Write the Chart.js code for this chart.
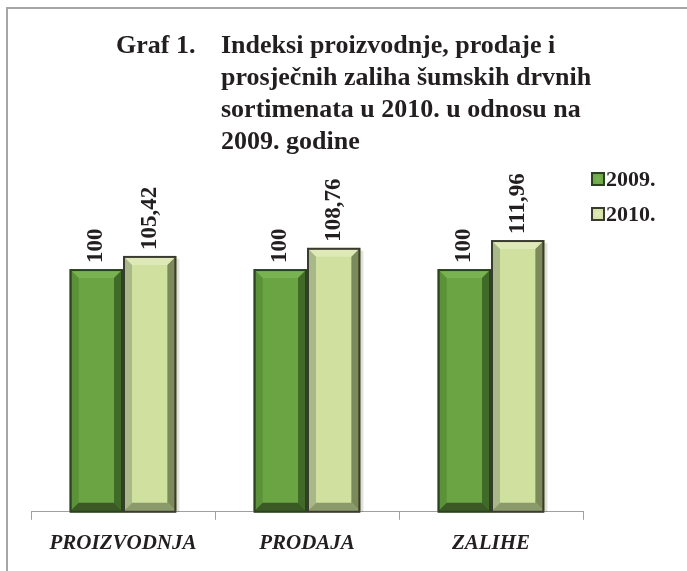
<!DOCTYPE html>
<html>
<head>
<meta charset="utf-8">
<script src="https://cdn.jsdelivr.net/npm/chart.js@4/dist/chart.umd.min.js"></script>
<style>
  html, body { margin: 0; padding: 0; background: #fff; }
  #wrap { position: relative; width: 687px; height: 571px; overflow: hidden; }
  #frame { position: absolute; left: 6px; top: 7px; width: 700px; height: 600px; border-left: 2px solid #a6a6a6; border-top: 2px solid #a6a6a6; }
  #title { position: absolute; left: 116px; top: 29px; display: flex; font-family: "Liberation Serif", "Times New Roman", serif; font-weight: bold; font-size: 26px; line-height: 32px; color: #231f20; }
  #title .num { width: 105px; }
  canvas { position: absolute; left: 0; top: 0; }
</style>
</head>
<body>
<div id="wrap">
  <div id="frame"></div>
  <canvas id="c" width="687" height="571"></canvas>
  <div id="title"><div class="num">Graf 1.</div><div>Indeksi proizvodnje, prodaje i<br>prosječnih zaliha šumskih drvnih<br>sortimenata u 2010. u odnosu na<br>2009. godine</div></div>
</div>
<script>
const categories = ["PROIZVODNJA", "PRODAJA", "ZALIHE"];
const seriesNames = ["2009.", "2010."];
const values2009 = [100, 100, 100];
const values2010 = [105.42, 108.76, 111.96];
const valueLabels2009 = ["100", "100", "100"];
const valueLabels2010 = ["105,42", "108,76", "111,96"];

const styles = [
  { face: "#6aa443", top: "#79b250", left: "#5a9139", right: "#3f6a28", bottom: "#3a5925", border: "#2b421f" },
  { face: "#cfe09f", top: "#dfe9b8", left: "#a9b889", right: "#7c895a", bottom: "#8b9a6b", border: "#3a3a2e" }
];
const labelSets = [valueLabels2009, valueLabels2010];
const FONT = "'Liberation Serif', 'Times New Roman', serif";

const bevelPlugin = {
  id: "bevel",
  afterDatasetsDraw(chart) {
    const ctx = chart.ctx;
    chart.data.datasets.forEach((ds, di) => {
      const meta = chart.getDatasetMeta(di);
      const st = styles[di];
      meta.data.forEach((bar, i) => {
        const p = bar.getProps(["x", "y", "base", "width"], true);
        const L = p.x - p.width / 2, R = p.x + p.width / 2, T = p.y, B = p.base;
        const b = 9;
        const poly = (pts, col) => {
          ctx.beginPath();
          ctx.moveTo(pts[0][0], pts[0][1]);
          for (let k = 1; k < pts.length; k++) ctx.lineTo(pts[k][0], pts[k][1]);
          ctx.closePath();
          ctx.fillStyle = col;
          ctx.fill();
        };
        ctx.save();
        ctx.fillStyle = "rgba(0,0,0,0.12)";
        ctx.fillRect(R, T + 3, 3, B - T - 3);
        poly([[L, T], [R, T], [R - b, T + b], [L + b, T + b]], st.top);
        poly([[L, T], [L + b, T + b], [L + b, B - b], [L, B]], st.left);
        poly([[R, T], [R, B], [R - b, B - b], [R - b, T + b]], st.right);
        poly([[L, B], [L + b, B - b], [R - b, B - b], [R, B]], st.bottom);
        ctx.strokeStyle = st.border;
        ctx.lineWidth = 2;
        ctx.strokeRect(L + 1, T + 1, p.width - 2, B - T - 1);
        ctx.translate(p.x, T - 6);
        ctx.rotate(-Math.PI / 2);
        ctx.font = "bold 23px " + FONT;
        ctx.fillStyle = "#231f20";
        ctx.textAlign = "left";
        ctx.textBaseline = "middle";
        ctx.fillText(labelSets[di][i], 0, 0);
        ctx.restore();
      });
    });
  },
  afterDraw(chart) {
    const ctx = chart.ctx;
    const area = chart.chartArea;
    ctx.save();
    chart.data.datasets.forEach((ds, i) => {
      const cy = area.top + 24 + i * 35;
      const bx = area.right + 8;
      const st = styles[i];
      ctx.fillStyle = st.border;
      ctx.fillRect(bx, cy - 7, 14, 14);
      const g = ctx.createRadialGradient(bx + 7, cy, 1, bx + 7, cy, 7);
      g.addColorStop(0, st.top);
      g.addColorStop(1, st.face);
      ctx.fillStyle = g;
      ctx.fillRect(bx + 2, cy - 5, 10, 10);
      ctx.font = "bold 22px " + FONT;
      ctx.fillStyle = "#231f20";
      ctx.textAlign = "left";
      ctx.textBaseline = "middle";
      ctx.fillText(ds.label, bx + 15, cy + 1);
    });
    ctx.restore();
  }
};

new Chart(document.getElementById("c"), {
  type: "bar",
  data: {
    labels: categories,
    datasets: [
      { label: seriesNames[0], data: values2009, backgroundColor: styles[0].face, borderWidth: 0, categoryPercentage: 0.58, barPercentage: 1.0 },
      { label: seriesNames[1], data: values2010, backgroundColor: styles[1].face, borderWidth: 0, categoryPercentage: 0.58, barPercentage: 1.0 }
    ]
  },
  options: {
    responsive: false,
    animation: false,
    events: [],
    layout: { padding: { left: 31, right: 104, top: 155, bottom: 4 } },
    plugins: {
      title: { display: false },
      tooltip: { enabled: false },
      legend: { display: false }
    },
    scales: {
      x: {
        grid: { display: true, drawOnChartArea: false, offset: true, tickLength: 8, color: "#a0a0a0" },
        border: { display: true, color: "#a0a0a0", width: 1 },
        ticks: { color: "#231f20", padding: 11, font: { family: FONT, size: 21, weight: "bold", style: "italic" } }
      },
      y: {
        display: false,
        min: 0,
        max: 147
      }
    }
  },
  plugins: [bevelPlugin]
});
</script>
</body>
</html>
